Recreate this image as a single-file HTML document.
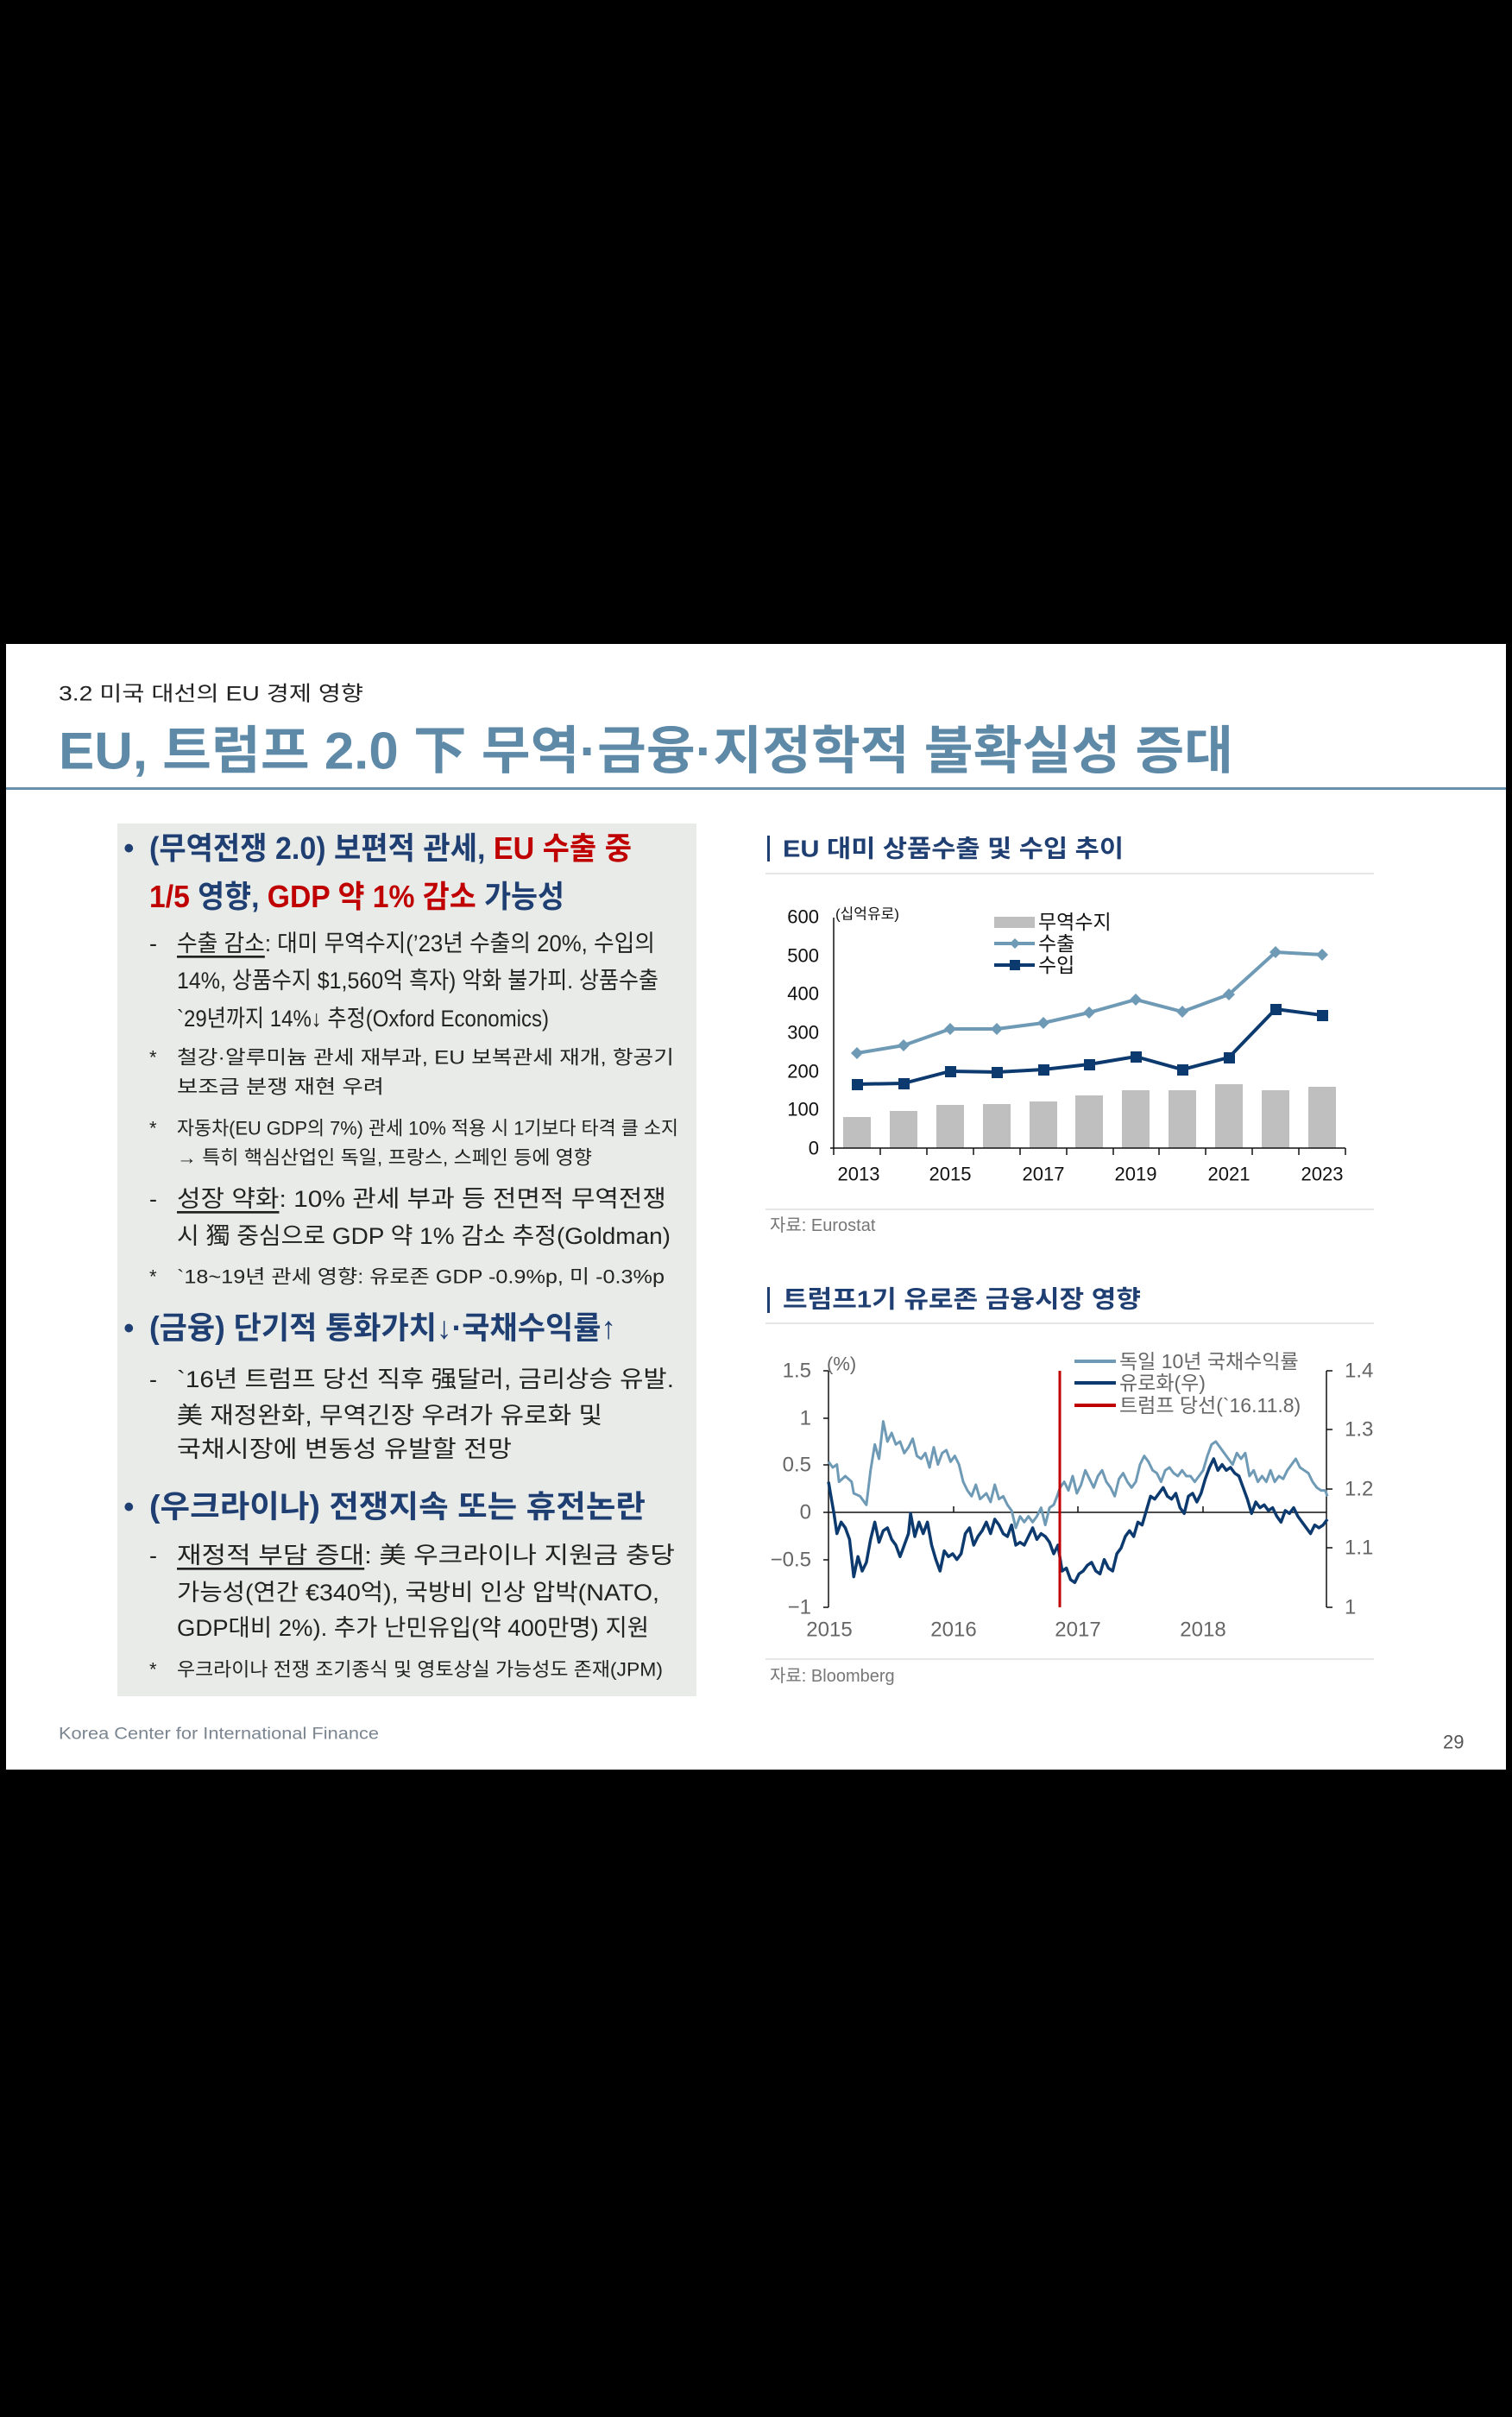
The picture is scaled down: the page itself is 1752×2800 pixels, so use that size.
<!DOCTYPE html>
<html><head><meta charset="utf-8"><style>
html,body{margin:0;padding:0;background:#000;}
svg{display:block;}
text{font-family:"Liberation Sans","Noto Sans CJK KR",sans-serif;}
.b{font-weight:bold;}
</style></head><body>
<svg width="1752" height="2800" viewBox="0 0 1752 2800" xmlns="http://www.w3.org/2000/svg">
<rect x="0" y="0" width="1752" height="2800" fill="#000"/>
<rect x="7" y="746" width="1738" height="1304" fill="#fff"/>

<!-- header -->
<text x="68" y="804" font-size="24" fill="#222" dominant-baseline="central" textLength="353" lengthAdjust="spacingAndGlyphs">3.2 미국 대선의 EU 경제 영향</text>
<text x="68" y="870" font-size="60" class="b" fill="#5e8aa8" dominant-baseline="central" textLength="1361" lengthAdjust="spacingAndGlyphs">EU, 트럼프 2.0 下 무역·금융·지정학적 불확실성 증대</text>
<rect x="7" y="912" width="1738" height="3" fill="#6a8faa"/>

<!-- left panel -->
<rect x="136" y="954" width="671" height="1011" fill="#e8ebe8"/>
<g dominant-baseline="central">
<text x="143" y="982" font-size="36" fill="#1f3f73">•</text>
<text x="173" y="982" font-size="36" class="b" textLength="559" lengthAdjust="spacingAndGlyphs"><tspan fill="#1f3f73">(무역전쟁 2.0) 보편적 관세, </tspan><tspan fill="#c00000">EU 수출 중</tspan></text>
<text x="173" y="1038" font-size="36" class="b" textLength="481" lengthAdjust="spacingAndGlyphs"><tspan fill="#c00000">1/5 </tspan><tspan fill="#1f3f73">영향, </tspan><tspan fill="#c00000">GDP 약 1% 감소 </tspan><tspan fill="#1f3f73">가능성</tspan></text>

<text x="173" y="1093" font-size="27" fill="#222">-</text>
<text x="205" y="1093" font-size="27" fill="#222" textLength="554" lengthAdjust="spacingAndGlyphs"><tspan text-decoration="underline">수출 감소</tspan>: 대미 무역수지(’23년 수출의 20%, 수입의</text>
<text x="205" y="1136" font-size="27" fill="#222" textLength="558" lengthAdjust="spacingAndGlyphs">14%, 상품수지 $1,560억 흑자) 악화 불가피. 상품수출</text>
<text x="205" y="1180" font-size="27" fill="#222" textLength="431" lengthAdjust="spacingAndGlyphs">`29년까지 14%↓ 추정(Oxford Economics)</text>

<text x="173" y="1225" font-size="22" fill="#222">*</text>
<text x="205" y="1225" font-size="22" fill="#222" textLength="576" lengthAdjust="spacingAndGlyphs">철강·알루미늄 관세 재부과, EU 보복관세 재개, 항공기</text>
<text x="205" y="1259" font-size="22" fill="#222" textLength="240" lengthAdjust="spacingAndGlyphs">보조금 분쟁 재현 우려</text>
<text x="173" y="1307" font-size="22" fill="#222">*</text>
<text x="205" y="1307" font-size="22" fill="#222" textLength="581" lengthAdjust="spacingAndGlyphs">자동차(EU GDP의 7%) 관세 10% 적용 시 1기보다 타격 클 소지</text>
<text x="205" y="1341" font-size="22" fill="#222" textLength="481" lengthAdjust="spacingAndGlyphs">→ 특히 핵심산업인 독일, 프랑스, 스페인 등에 영향</text>

<text x="173" y="1389" font-size="27" fill="#222">-</text>
<text x="205" y="1389" font-size="27" fill="#222" textLength="567" lengthAdjust="spacingAndGlyphs"><tspan text-decoration="underline">성장 약화</tspan>: 10% 관세 부과 등 전면적 무역전쟁</text>
<text x="205" y="1432" font-size="27" fill="#222" textLength="572" lengthAdjust="spacingAndGlyphs">시 獨 중심으로 GDP 약 1% 감소 추정(Goldman)</text>
<text x="173" y="1479" font-size="22" fill="#222">*</text>
<text x="205" y="1479" font-size="22" fill="#222" textLength="565" lengthAdjust="spacingAndGlyphs">`18~19년 관세 영향: 유로존 GDP -0.9%p, 미 -0.3%p</text>

<text x="143" y="1538" font-size="36" fill="#1f3f73">•</text>
<text x="173" y="1538" font-size="36" class="b" fill="#1f3f73" textLength="541" lengthAdjust="spacingAndGlyphs">(금융) 단기적 통화가치↓·국채수익률↑</text>
<text x="173" y="1598" font-size="27" fill="#222">-</text>
<text x="205" y="1598" font-size="27" fill="#222" textLength="576" lengthAdjust="spacingAndGlyphs">`16년 트럼프 당선 직후 强달러, 금리상승 유발.</text>
<text x="205" y="1640" font-size="27" fill="#222" textLength="493" lengthAdjust="spacingAndGlyphs">美 재정완화, 무역긴장 우려가 유로화 및</text>
<text x="205" y="1679" font-size="27" fill="#222" textLength="388" lengthAdjust="spacingAndGlyphs">국채시장에 변동성 유발할 전망</text>

<text x="143" y="1745" font-size="36" fill="#1f3f73">•</text>
<text x="173" y="1745" font-size="36" class="b" fill="#1f3f73" textLength="575" lengthAdjust="spacingAndGlyphs">(우크라이나) 전쟁지속 또는 휴전논란</text>
<text x="173" y="1802" font-size="27" fill="#222">-</text>
<text x="205" y="1802" font-size="27" fill="#222" textLength="577" lengthAdjust="spacingAndGlyphs"><tspan text-decoration="underline">재정적 부담 증대</tspan>: 美 우크라이나 지원금 충당</text>
<text x="205" y="1845" font-size="27" fill="#222" textLength="559" lengthAdjust="spacingAndGlyphs">가능성(연간 €340억), 국방비 인상 압박(NATO,</text>
<text x="205" y="1886" font-size="27" fill="#222" textLength="547" lengthAdjust="spacingAndGlyphs">GDP대비 2%). 추가 난민유입(약 400만명) 지원</text>
<text x="173" y="1934" font-size="22" fill="#222">*</text>
<text x="205" y="1934" font-size="22" fill="#222" textLength="563" lengthAdjust="spacingAndGlyphs">우크라이나 전쟁 조기종식 및 영토상실 가능성도 존재(JPM)</text>
</g>

<!-- Chart 1 -->
<g dominant-baseline="central">
<rect x="889" y="968" width="3" height="30" fill="#1f3f73"/>
<text x="907" y="983" font-size="28" class="b" fill="#1f3f73" textLength="395" lengthAdjust="spacingAndGlyphs">EU 대미 상품수출 및 수입 추이</text>
<rect x="887" y="1011" width="705" height="2" fill="#e6e6e6"/>
<rect x="887" y="1400" width="705" height="2" fill="#e6e6e6"/>
<text x="892" y="1420" font-size="20" fill="#777">자료: Eurostat</text>

<g font-size="22" fill="#111" text-anchor="end">
<text x="949" y="1330">0</text><text x="949" y="1285">100</text><text x="949" y="1241">200</text><text x="949" y="1196">300</text><text x="949" y="1151">400</text><text x="949" y="1107">500</text><text x="949" y="1062">600</text>
</g>
<text x="968" y="1059" font-size="17" fill="#111">(십억유로)</text>
<g fill="#bfbfbf">
<rect x="977" y="1294" width="32" height="36"/><rect x="1031" y="1287" width="32" height="43"/><rect x="1085" y="1280" width="32" height="50"/><rect x="1139" y="1279" width="32" height="51"/><rect x="1193" y="1276" width="32" height="54"/><rect x="1246" y="1269" width="32" height="61"/><rect x="1300" y="1263" width="32" height="67"/><rect x="1354" y="1263" width="32" height="67"/><rect x="1408" y="1256" width="32" height="74"/><rect x="1462" y="1263" width="32" height="67"/><rect x="1516" y="1259" width="32" height="71"/>
</g>
<line x1="966" y1="1063" x2="966" y2="1338" stroke="#111" stroke-width="1.5"/>
<line x1="962" y1="1330" x2="1559" y2="1330" stroke="#111" stroke-width="1.5"/>
<g stroke="#111" stroke-width="1.5">
<line x1="1020" y1="1330" x2="1020" y2="1338"/><line x1="1074" y1="1330" x2="1074" y2="1338"/><line x1="1128" y1="1330" x2="1128" y2="1338"/><line x1="1182" y1="1330" x2="1182" y2="1338"/><line x1="1236" y1="1330" x2="1236" y2="1338"/><line x1="1290" y1="1330" x2="1290" y2="1338"/><line x1="1343" y1="1330" x2="1343" y2="1338"/><line x1="1397" y1="1330" x2="1397" y2="1338"/><line x1="1451" y1="1330" x2="1451" y2="1338"/><line x1="1505" y1="1330" x2="1505" y2="1338"/><line x1="1559" y1="1330" x2="1559" y2="1338"/>
</g>
<g font-size="22" fill="#111" text-anchor="middle">
<text x="995" y="1360">2013</text><text x="1101" y="1360">2015</text><text x="1209" y="1360">2017</text><text x="1316" y="1360">2019</text><text x="1424" y="1360">2021</text><text x="1532" y="1360">2023</text>
</g>
<polyline fill="none" stroke="#6f9ab5" stroke-width="4" points="993,1220 1047,1211 1101,1192 1155,1192 1209,1185 1262,1173 1316,1158 1370,1172 1424,1152 1478,1103 1532,1106"/>
<g fill="#6f9ab5">
<path d="M993,1213l7,7-7,7-7-7z"/><path d="M1047,1204l7,7-7,7-7-7z"/><path d="M1101,1185l7,7-7,7-7-7z"/><path d="M1155,1185l7,7-7,7-7-7z"/><path d="M1209,1178l7,7-7,7-7-7z"/><path d="M1262,1166l7,7-7,7-7-7z"/><path d="M1316,1151l7,7-7,7-7-7z"/><path d="M1370,1165l7,7-7,7-7-7z"/><path d="M1424,1145l7,7-7,7-7-7z"/><path d="M1478,1096l7,7-7,7-7-7z"/><path d="M1532,1099l7,7-7,7-7-7z"/>
</g>
<polyline fill="none" stroke="#0d3a6e" stroke-width="4" points="993,1256 1047,1255 1101,1241 1155,1242 1209,1239 1262,1233 1316,1224 1370,1239 1424,1225 1478,1169 1532,1176"/>
<g fill="#0d3a6e">
<rect x="987" y="1250" width="13" height="13"/><rect x="1041" y="1249" width="13" height="13"/><rect x="1095" y="1235" width="13" height="13"/><rect x="1149" y="1236" width="13" height="13"/><rect x="1203" y="1233" width="13" height="13"/><rect x="1256" y="1227" width="13" height="13"/><rect x="1310" y="1218" width="13" height="13"/><rect x="1364" y="1233" width="13" height="13"/><rect x="1418" y="1219" width="13" height="13"/><rect x="1472" y="1163" width="13" height="13"/><rect x="1526" y="1170" width="13" height="13"/>
</g>
<!-- legend -->
<rect x="1152" y="1062" width="47" height="13" fill="#bfbfbf"/>
<text x="1203" y="1068" font-size="23" fill="#111">무역수지</text>
<line x1="1152" y1="1093" x2="1199" y2="1093" stroke="#6f9ab5" stroke-width="4"/><path d="M1176,1087l6,6-6,6-6-6z" fill="#6f9ab5"/>
<text x="1203" y="1093" font-size="23" fill="#111">수출</text>
<line x1="1152" y1="1118" x2="1199" y2="1118" stroke="#0d3a6e" stroke-width="4"/><rect x="1170" y="1112" width="12" height="12" fill="#0d3a6e"/>
<text x="1203" y="1118" font-size="23" fill="#111">수입</text>
</g>

<!-- Chart 2 -->
<g dominant-baseline="central">
<rect x="889" y="1491" width="3" height="30" fill="#1f3f73"/>
<text x="907" y="1505" font-size="28" class="b" fill="#1f3f73" textLength="415" lengthAdjust="spacingAndGlyphs">트럼프1기 유로존 금융시장 영향</text>
<rect x="887" y="1532" width="705" height="2" fill="#e6e6e6"/>
<rect x="887" y="1921" width="705" height="2" fill="#e6e6e6"/>
<text x="892" y="1942" font-size="20" fill="#777">자료: Bloomberg</text>

<g font-size="24" fill="#666" text-anchor="end">
<text x="940" y="1588">1.5</text><text x="940" y="1643">1</text><text x="940" y="1697">0.5</text><text x="940" y="1752">0</text><text x="940" y="1807">−0.5</text><text x="940" y="1862">−1</text>
</g>
<g font-size="24" fill="#666">
<text x="1558" y="1588">1.4</text><text x="1558" y="1656">1.3</text><text x="1558" y="1725">1.2</text><text x="1558" y="1793">1.1</text><text x="1558" y="1862">1</text>
</g>
<text x="958" y="1580" font-size="22" fill="#666">(%)</text>
<g font-size="24" fill="#666" text-anchor="middle">
<text x="961" y="1888">2015</text><text x="1105" y="1888">2016</text><text x="1249" y="1888">2017</text><text x="1394" y="1888">2018</text>
</g>
<g stroke="#111" stroke-width="1.5">
<line x1="960" y1="1588" x2="960" y2="1862"/>
<line x1="954" y1="1588" x2="960" y2="1588"/><line x1="954" y1="1643" x2="960" y2="1643"/><line x1="954" y1="1697" x2="960" y2="1697"/><line x1="954" y1="1752" x2="960" y2="1752"/><line x1="954" y1="1807" x2="960" y2="1807"/><line x1="954" y1="1862" x2="960" y2="1862"/>
<line x1="960" y1="1752" x2="1537" y2="1752"/>
<line x1="1105" y1="1745" x2="1105" y2="1752"/><line x1="1249" y1="1745" x2="1249" y2="1752"/><line x1="1394" y1="1745" x2="1394" y2="1752"/>
<line x1="1537" y1="1588" x2="1537" y2="1862"/>
<line x1="1537" y1="1588" x2="1544" y2="1588"/><line x1="1537" y1="1656" x2="1544" y2="1656"/><line x1="1537" y1="1725" x2="1544" y2="1725"/><line x1="1537" y1="1793" x2="1544" y2="1793"/><line x1="1537" y1="1862" x2="1544" y2="1862"/>
</g>
<g transform="translate(860,1470) scale(0.4878,0.3333)">
<polyline vector-effect="non-scaling-stroke" fill="none" stroke="#6f9ab5" stroke-width="3" stroke-linejoin="round" points="205,670 215,690 225,680 230,740 245,720 260,740 265,780 280,790 295,820 305,700 315,610 325,660 335,530 345,600 355,570 365,610 375,600 385,640 395,620 405,590 415,650 425,660 435,640 445,690 455,620 465,680 475,640 485,630 495,670 505,650 515,680 525,740 535,770 545,790 555,750 565,800 580,780 590,810 600,750 610,800 620,790 630,820 640,840 650,900 660,860 670,880 680,860 690,880 700,860 710,830 720,890 730,830 740,820 748,790 755,760 765,740 775,770 785,720 795,780 805,750 815,700 825,730 835,760 845,720 855,700 865,740 875,760 885,790 895,730 905,710 915,740 925,760 935,740 945,680 955,650 965,670 975,700 985,710 995,740 1005,700 1015,690 1025,710 1035,720 1045,700 1055,720 1065,720 1075,740 1085,720 1095,700 1105,650 1115,610 1125,600 1135,620 1145,640 1155,660 1165,680 1175,640 1185,660 1195,640 1205,720 1215,700 1225,740 1235,720 1245,740 1255,700 1265,740 1275,720 1285,730 1295,700 1305,680 1315,660 1325,690 1335,700 1345,710 1355,740 1365,760 1375,770 1385,770 1390,790"/>
<polyline vector-effect="non-scaling-stroke" fill="none" stroke="#0d3a6e" stroke-width="3.5" stroke-linejoin="round" points="205,740 212,800 218,850 225,920 235,880 245,900 255,940 265,1070 275,1000 285,1050 295,1020 305,940 315,880 325,950 335,910 345,900 355,940 365,960 375,1000 385,960 395,920 400,850 410,930 420,880 430,920 440,880 450,960 460,1010 470,1050 480,980 490,1000 500,990 510,1010 520,990 530,920 540,900 550,960 560,930 570,910 580,880 590,920 600,870 610,890 620,920 630,930 640,890 650,960 660,950 670,960 680,930 690,900 700,940 710,920 720,930 730,950 740,990 750,960 760,1050 770,1040 780,1080 790,1090 800,1060 810,1050 820,1030 830,1020 840,1050 850,1060 860,1010 870,1040 880,1050 890,990 900,970 910,930 920,910 930,930 940,880 950,890 960,840 970,790 980,800 990,780 1000,760 1010,790 1020,800 1030,780 1040,830 1050,850 1060,790 1070,780 1080,810 1090,780 1100,730 1110,690 1120,660 1130,700 1140,680 1150,700 1160,690 1170,710 1180,720 1190,760 1200,800 1210,850 1220,810 1230,830 1240,820 1250,840 1260,830 1270,860 1280,880 1290,840 1300,850 1310,830 1320,860 1330,880 1340,900 1350,920 1360,890 1370,900 1380,890 1390,870"/>
</g>
<line x1="1228" y1="1588" x2="1228" y2="1862" stroke="#c00000" stroke-width="3"/>
<!-- legend -->
<line x1="1245" y1="1577" x2="1293" y2="1577" stroke="#6f9ab5" stroke-width="4"/>
<text x="1297" y="1577" font-size="23" fill="#666">독일 10년 국채수익률</text>
<line x1="1245" y1="1602" x2="1293" y2="1602" stroke="#0d3a6e" stroke-width="4"/>
<text x="1297" y="1602" font-size="23" fill="#666">유로화(우)</text>
<line x1="1245" y1="1628" x2="1293" y2="1628" stroke="#c00000" stroke-width="4"/>
<text x="1297" y="1628" font-size="23" fill="#666">트럼프 당선(`16.11.8)</text>
</g>

<!-- footer -->
<text x="68" y="2009" font-size="19" fill="#7a8590" dominant-baseline="central" textLength="371" lengthAdjust="spacingAndGlyphs">Korea Center for International Finance</text>
<text x="1672" y="2018" font-size="22" fill="#555" dominant-baseline="central">29</text>
</svg>
</body></html>
